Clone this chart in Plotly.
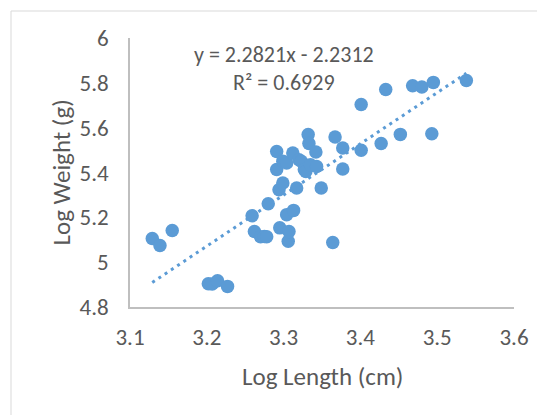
import plotly.graph_objects as go

log_length = [
    3.129, 3.139, 3.155,
    3.202, 3.207, 3.214, 3.227,
    3.259, 3.262, 3.270, 3.275, 3.278, 3.280,
    3.291, 3.291, 3.294, 3.295, 3.299, 3.299, 3.304, 3.304, 3.306, 3.307,
    3.313, 3.312, 3.317, 3.320, 3.323, 3.327, 3.329, 3.332, 3.333, 3.335,
    3.342, 3.343, 3.349, 3.364, 3.367, 3.377, 3.377,
    3.401, 3.401, 3.427, 3.433, 3.452, 3.468, 3.480, 3.495, 3.493, 3.538,
]
log_weight = [
    5.106, 5.074, 5.141,
    4.904, 4.903, 4.917, 4.892,
    5.207, 5.137, 5.113, 5.115, 5.113, 5.261,
    5.494, 5.413, 5.323, 5.153, 5.353, 5.450, 5.212, 5.442, 5.093, 5.137,
    5.231, 5.487, 5.331, 5.457, 5.450, 5.413, 5.405, 5.569, 5.529, 5.435,
    5.491, 5.427, 5.331, 5.088, 5.558, 5.509, 5.416,
    5.703, 5.499, 5.529, 5.770, 5.570, 5.787, 5.781, 5.802, 5.573, 5.810,
]

slope = 2.2821
intercept = -2.2312
r_squared = 0.6929

x_ticks = [3.1, 3.2, 3.3, 3.4, 3.5, 3.6]
y_ticks = [4.8, 5.0, 5.2, 5.4, 5.6, 5.8, 6.0]
x_tick_text = ["3.1", "3.2", "3.3", "3.4", "3.5", "3.6"]
y_tick_text = ["4.8", "5", "5.2", "5.4", "5.6", "5.8", "6"]
x_title = "Log Length (cm)"
y_title = "Log Weight (g)"

blue = "#5b9bd5"
text_col = "#595959"
font_family = "Carlito, Calibri, Lato, sans-serif"

trend_x = [min(log_length), max(log_length)]
trend_y = [slope * v + intercept for v in trend_x]

fig = go.Figure()
fig.add_trace(go.Scatter(
    x=trend_x, y=trend_y, mode="lines",
    line=dict(color=blue, width=3, dash="3px,4.5px"),
    hoverinfo="skip", showlegend=False,
))
fig.add_trace(go.Scatter(
    x=log_length, y=log_weight, mode="markers",
    marker=dict(color=blue, size=13.5, line=dict(width=0)),
    showlegend=False,
))

# page body adds an 8px offset, so the figure is 8px smaller than the window
W, H = 537, 407
L, R, T, B = 122, 31, 30, 108
pw, ph = W - L - R, H - T - B

fig.add_shape(type="rect", xref="paper", yref="paper",
              x0=(3 - L) / pw, x1=2.0, y0=-1.0, y1=1 + (T - 3) / ph,
              line=dict(color="#d9d9d9", width=1), fillcolor="rgba(0,0,0,0)",
              layer="below")

fig.add_annotation(x=3.30, y=5.925, xref="x", yref="y",
                   text=f"y = {slope}x - {abs(intercept)}", showarrow=False,
                   font=dict(size=22, color=text_col, family=font_family))
fig.add_annotation(x=3.30, y=5.80, xref="x", yref="y",
                   text=f"R² = {r_squared}", showarrow=False,
                   font=dict(size=22, color=text_col, family=font_family))

# axis titles
fig.add_annotation(x=0.5, y=1 - (368 - T) / ph, xref="paper", yref="paper",
                   text=x_title, showarrow=False, xanchor="center", yanchor="middle",
                   font=dict(size=25, color=text_col, family=font_family))
fig.add_annotation(x=(53 - L) / pw, y=0.5, xref="paper", yref="paper",
                   text=y_title, showarrow=False, textangle=-90,
                   xanchor="center", yanchor="middle",
                   font=dict(size=25, color=text_col, family=font_family))

fig.update_layout(
    width=W, height=H,
    margin=dict(l=L, r=R, t=T, b=B),
    paper_bgcolor="white", plot_bgcolor="white",
    font=dict(family=font_family, color=text_col, size=22),
    xaxis=dict(
        range=[3.1, 3.6], tickvals=x_ticks, ticktext=x_tick_text,
        showgrid=False, zeroline=False, showline=True,
        linecolor="#bfbfbf", linewidth=1.5, ticks="",
        ticklabelstandoff=9,
        tickfont=dict(size=23, color=text_col),
    ),
    yaxis=dict(
        range=[4.8, 6.0], tickvals=y_ticks, ticktext=y_tick_text,
        showgrid=False, zeroline=False, showline=True,
        linecolor="#bfbfbf", linewidth=1.5, ticks="",
        ticklabelstandoff=15,
        tickfont=dict(size=23, color=text_col),
    ),
)

fig.write_html("out.html")
